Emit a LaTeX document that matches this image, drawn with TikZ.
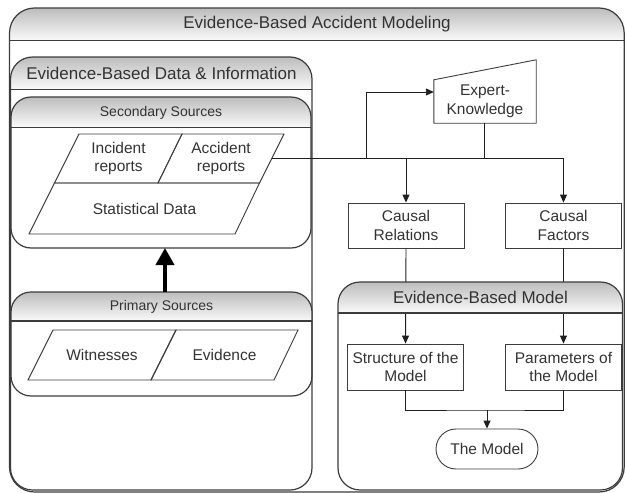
\documentclass[tikz,border=0pt]{standalone}
\usepackage{fontspec}
\setmainfont{Liberation Sans}
\usetikzlibrary{arrows.meta}

\definecolor{ink}{HTML}{333333}
\definecolor{edge}{HTML}{3C3C3C}
\definecolor{wire}{HTML}{1E1E1E}

\tikzset{
  frame/.style={draw=edge, line width=1.2pt},
  boxline/.style={draw=edge, line width=0.9pt},
  lbl/.style={text=ink, font=\fontsize{15.5}{18.5}\selectfont, align=center, inner sep=0pt},
  headlbl/.style={text=ink, font=\fontsize{17}{20}\selectfont, inner sep=0pt},
  sublbl/.style={text=ink, font=\fontsize{14}{17}\selectfont, inner sep=0pt},
  procbox/.style={boxline, fill=white, rectangle, minimum width=116pt, minimum height=45pt,
                  lbl},
  conn/.style={draw=wire, line width=0.9pt},
  arr/.style={conn, -{Triangle[length=8pt,width=7pt]}},
}

% container with a shaded title band: x1, y1, x2, y2, band bottom, corner radius
\newcommand\groupframe[6]{%
  \begin{scope}
    \clip[rounded corners=#6pt] (#1,#2) rectangle (#3,#4);
    \shade[top color=black!26, bottom color=black!2] (#1,#2) rectangle (#3,#5);
  \end{scope}
  \draw[frame, rounded corners=#6pt] (#1,#2) rectangle (#3,#4);
  \draw[frame] (#1,#5) -- (#3,#5);
}

\begin{document}
\begin{tikzpicture}[x=1pt, y=-1pt]
\useasboundingbox (0,0) rectangle (625,493);
\fill[white] (0,0) rectangle (625,493);

% ---------- containers ----------
\groupframe{9.5}{8}{624.2}{492}{40.5}{25}
\node[headlbl] (titleMain) at (317,24.5) {Evidence-Based Accident Modeling};

\groupframe{10.5}{57}{312}{490}{89.5}{22}
\node[headlbl] (titleData) at (161.5,73.5) {Evidence-Based Data \& Information};

\groupframe{11}{97}{311}{248}{127.5}{20}
\node[sublbl] (titleSec) at (161,112.5) {Secondary Sources};

\groupframe{11}{292}{312}{396}{321}{20}
\node[sublbl] (titlePri) at (161.5,306.5) {Primary Sources};

% ---------- data sources (parallelograms) ----------
\draw[boxline] (79,134) -- (182,134) -- (158,183) -- (54.5,183) -- cycle;
\draw[boxline] (182,134) -- (284,134) -- (259.5,183) -- (158,183) -- cycle;
\draw[boxline] (54.5,183) -- (259.5,183) -- (235,234) -- (29,234) -- cycle;
\node[lbl] (incident) at (118.5,158.5) {Incident\\reports};
\node[lbl] (accident) at (221,158.5) {Accident\\reports};
\node[lbl] (stat) at (144.5,208.5) {Statistical Data};
\coordinate (accE) at (272,158);

\draw[boxline] (53,330) -- (176,330) -- (151,380) -- (28,380) -- cycle;
\draw[boxline] (176,330) -- (298,330) -- (274,380) -- (151,380) -- cycle;
\node[lbl] (witness) at (102,355) {Witnesses};
\node[lbl] (evidence) at (224.5,355) {Evidence};

% primary sources feed the secondary sources
\coordinate (priTop) at (165,292);
\coordinate (secBot) at (165,248);
\draw[draw=black, line width=4pt, -{Triangle[length=17pt,width=18pt]}] (priTop) -- (secBot);

% ---------- expert knowledge (manual input) ----------
\node[lbl, minimum width=102pt, minimum height=43pt] (ek) at (485,101.5) {Expert-\\Knowledge};
\draw[boxline] (ek.south west) -- (ek.north west) -- ([yshift=20pt]ek.north east)
  -- (ek.south east) -- cycle;

% ---------- process boxes ----------
\node[procbox] (cr) at (406,225.5) {Causal\\Relations};
\node[procbox] (cf) at (563.5,225.5) {Causal\\Factors};
\node[procbox, minimum height=46pt] (sm) at (405.5,367) {Structure of the\\Model};
\node[procbox, minimum height=46pt] (pm) at (563.5,367) {Parameters of\\the Model};

% causal results pass behind the model container's title band
\draw[arr] (cr.south) -- (sm.north);
\draw[arr] (cf.south) -- (pm.north);

\groupframe{338}{282}{622.5}{490}{313}{22}
\node[headlbl] (titleModel) at (480.5,297.5) {Evidence-Based Model};

\node[lbl, boxline, fill=white, rounded corners=20pt, minimum width=102pt, minimum height=40pt]
  (tm) at (487,449) {The Model};

% ---------- connectors ----------
\coordinate (jA) at (366,158);
\coordinate (jB) at (484.5,158);
\draw[conn] (accE) -- (jB);
\draw[arr] (jA) |- ([yshift=9.5pt]ek.west);
\draw[conn] (ek.south -| jB) -- (jB);
\draw[arr] (jB) -| (cr.north);
\draw[arr] (jB) -| (cf.north);

\coordinate (jC) at (487,410);
\draw[conn] (sm.south) |- (jC) -| (pm.south);
\draw[arr] (jC) -- (tm.north);
\end{tikzpicture}
\end{document}
